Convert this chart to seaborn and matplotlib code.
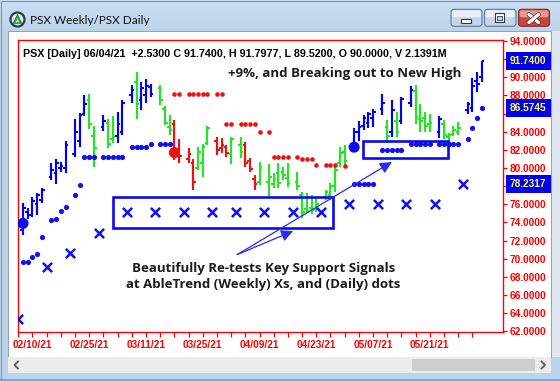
import numpy as np
import pandas as pd
import matplotlib
matplotlib.use("Agg")
import matplotlib.pyplot as plt
import seaborn as sns
from matplotlib.patches import Rectangle, FancyBboxPatch, Circle, Polygon
import matplotlib.patheffects as pe

# ---------------- data ----------------
dates = ["2021-02-08", "2021-02-09", "2021-02-10", "2021-02-11", "2021-02-12",
         "2021-02-16", "2021-02-17", "2021-02-18", "2021-02-19",
         "2021-02-22", "2021-02-23", "2021-02-24", "2021-02-25", "2021-02-26",
         "2021-03-01", "2021-03-02", "2021-03-03", "2021-03-04", "2021-03-05",
         "2021-03-08", "2021-03-09", "2021-03-10", "2021-03-11", "2021-03-12",
         "2021-03-15", "2021-03-16", "2021-03-17", "2021-03-18", "2021-03-19",
         "2021-03-22", "2021-03-23", "2021-03-24", "2021-03-25", "2021-03-26",
         "2021-03-29", "2021-03-30", "2021-03-31", "2021-04-01",
         "2021-04-05", "2021-04-06", "2021-04-07", "2021-04-08", "2021-04-09",
         "2021-04-12", "2021-04-13", "2021-04-14", "2021-04-15", "2021-04-16",
         "2021-04-19", "2021-04-20", "2021-04-21", "2021-04-22", "2021-04-23",
         "2021-04-26", "2021-04-27", "2021-04-28", "2021-04-29", "2021-04-30",
         "2021-05-03", "2021-05-04", "2021-05-05", "2021-05-06", "2021-05-07",
         "2021-05-10", "2021-05-11", "2021-05-12", "2021-05-13", "2021-05-14",
         "2021-05-17", "2021-05-18", "2021-05-19", "2021-05-20", "2021-05-21",
         "2021-05-24", "2021-05-25", "2021-05-26", "2021-05-27", "2021-05-28",
         "2021-06-01", "2021-06-02", "2021-06-03", "2021-06-04"]

opens = [73.2, 75.2, 74.8, 76.0, 76.5,
         79.0, 79.4, 80.0, 80.0,
         81.5, 83.0, 86.0, 87.5, 83.5,
         84.5, 85.0, 83.2, 83.5, 84.0,
         88.0, 89.5, 87.5, 88.0, 88.9,
         88.8, 86.5, 84.5, 84.8, 82.0,
         81.0, 80.5, 80.0, 80.5, 82.8,
         83.0, 82.2, 82.3, 81.5,
         82.5, 82.5, 80.8, 78.8, 78.5,
         78.5, 78.2, 79.5, 79.6, 78.9,
         78.5, 77.0, 75.5, 75.6, 75.5,
         76.8, 77.0, 78.0, 80.5, 81.8,
         82.6, 84.0, 84.6, 85.0, 85.5,
         86.5, 84.5, 84.0, 85.2, 85.2,
         87.2, 88.5, 85.4, 85.5, 84.8,
         84.0, 84.8, 83.4, 83.8, 84.0,
         86.4, 86.6, 89.6, 90.0]
highs = [76.1, 75.6, 76.8, 77.2, 77.8,
         80.6, 81.0, 80.7, 83.0,
         85.4, 86.1, 88.0, 88.2, 84.6,
         85.8, 85.4, 85.7, 86.2, 87.5,
         89.1, 90.6, 89.5, 89.8, 89.3,
         89.1, 86.8, 85.8, 85.3, 83.2,
         82.2, 81.0, 82.3, 82.7, 84.6,
         83.4, 83.3, 82.5, 83.4,
         83.4, 82.9, 81.1, 79.2, 80.7,
         80.4, 79.4, 80.6, 80.1, 80.5,
         79.6, 77.4, 77.2, 77.0, 76.8,
         77.6, 78.4, 80.2, 82.3, 82.5,
         84.4, 85.2, 85.8, 86.2, 86.5,
         88.2, 85.3, 87.5, 86.2, 87.8,
         89.0, 89.1, 87.0, 86.2, 86.0,
         85.7, 85.3, 83.9, 84.6, 85.1,
         87.3, 89.9, 90.6, 91.7977]
lows = [72.6, 74.4, 74.6, 74.8, 76.1,
        78.7, 78.2, 79.6, 79.4,
        81.2, 82.3, 85.7, 84.3, 80.1,
        84.1, 82.2, 82.8, 82.8, 83.6,
        87.2, 85.4, 86.4, 87.2, 87.8,
        86.9, 84.7, 83.6, 80.9, 80.6,
        80.5, 77.6, 79.8, 79.0, 82.5,
        81.4, 81.6, 81.2, 80.4,
        81.1, 80.1, 79.6, 77.6, 78.1,
        76.8, 77.8, 77.8, 78.7, 77.9,
        77.6, 74.5, 75.0, 74.9, 75.2,
        76.5, 76.5, 77.4, 80.1, 80.0,
        82.2, 83.0, 84.2, 84.4, 84.5,
        85.8, 82.8, 83.4, 83.4, 84.8,
        86.7, 84.8, 84.0, 84.0, 84.0,
        83.3, 83.2, 83.0, 83.5, 83.6,
        86.0, 86.2, 88.4, 89.52]
closes = [75.6, 74.8, 76.4, 77.0, 77.6,
          79.8, 80.6, 80.2, 82.5,
          84.0, 85.8, 87.0, 84.8, 82.2,
          85.2, 82.6, 83.4, 84.8, 87.2,
          88.6, 87.0, 88.8, 89.0, 88.2,
          87.5, 85.0, 84.2, 81.6, 81.3,
          81.5, 78.5, 81.8, 82.3, 84.4,
          82.0, 82.5, 81.6, 83.2,
          81.8, 80.6, 79.9, 78.2, 80.0,
          79.0, 78.8, 78.4, 79.2, 78.4,
          78.0, 75.2, 75.3, 75.4, 76.0,
          77.3, 78.0, 79.8, 81.6, 80.8,
          84.0, 84.5, 85.5, 85.9, 86.2,
          87.2, 83.5, 86.4, 84.0, 87.6,
          88.6, 85.6, 85.2, 84.6, 85.0,
          85.4, 83.6, 83.6, 84.2, 84.4,
          87.0, 89.0, 89.21, 91.74]
trend = list("bbbbb" "bbbb" "bbbgg" "bggbb" "bgbbb" "gggrr" "rrggg" "rrrg"
             "grrrg" "ggggg" "ggggg" "ggggg" "bbbbb" "bgbgb" "bgggg" "bgggg" "bbbb")
last_volume = "2.1391M"

support_dates = ["2021-02-08", "2021-02-09", "2021-02-10", "2021-02-11", "2021-02-12",
                 "2021-02-16", "2021-02-17", "2021-02-18", "2021-02-19",
                 "2021-02-22", "2021-02-23", "2021-02-24", "2021-02-25", "2021-02-26",
                 "2021-03-01", "2021-03-02", "2021-03-03", "2021-03-04", "2021-03-05",
                 "2021-03-08", "2021-03-09", "2021-03-10", "2021-03-11", "2021-03-12",
                 "2021-03-15", "2021-03-16", "2021-03-17",
                 "2021-05-03", "2021-05-04", "2021-05-05", "2021-05-06", "2021-05-07",
                 "2021-05-10", "2021-05-11", "2021-05-12", "2021-05-13", "2021-05-14",
                 "2021-05-17", "2021-05-18", "2021-05-19", "2021-05-20", "2021-05-21",
                 "2021-05-24", "2021-05-25", "2021-05-26", "2021-05-27", "2021-05-28",
                 "2021-06-01", "2021-06-02", "2021-06-03", "2021-06-04"]
support_values = [69.6, 69.6, 70.2, 70.5, 72.4,
                  74.3, 74.4, 75.3, 75.7,
                  77.0, 78.1, 81.2, 81.2, 81.2,
                  81.2, 81.2, 81.2, 81.2, 81.2,
                  82.3, 82.3, 82.3, 82.3, 82.6,
                  82.6, 82.6, 82.6,
                  78.2, 78.2, 78.2, 78.2, 78.2,
                  82.0, 82.0, 82.0, 82.0, 82.0,
                  82.6, 82.6, 82.6, 82.6, 82.6,
                  82.6, 82.6, 82.6, 82.6, 82.6,
                  83.2, 84.4, 85.5, 86.5745]

resist_dates = ["2021-03-18", "2021-03-19", "2021-03-22", "2021-03-23", "2021-03-24",
                "2021-03-25", "2021-03-26", "2021-03-29", "2021-03-30",
                "2021-03-31", "2021-04-01", "2021-04-05", "2021-04-06", "2021-04-07",
                "2021-04-08", "2021-04-09", "2021-04-12", "2021-04-13", "2021-04-14",
                "2021-04-15", "2021-04-16", "2021-04-19", "2021-04-20", "2021-04-21",
                "2021-04-22", "2021-04-23", "2021-04-26", "2021-04-27", "2021-04-28",
                "2021-04-30"]
resist_values = [88.2, 88.2, 88.2, 88.2, 88.2,
                 88.2, 88.2, 88.2, 88.2,
                 84.9, 84.9, 84.9, 84.9, 84.9,
                 84.9, 84.0, 84.0, 81.2, 81.2,
                 81.2, 81.2, 81.2, 81.0, 81.0,
                 81.0, 80.3, 80.3, 80.3, 80.3,
                 80.2]

signal_dates = ["2021-02-08", "2021-03-18", "2021-05-03"]
signal_values = [73.9, 81.7, 82.3]
signal_kind = ["up", "down", "up"]

week_starts = ["2021-02-08", "2021-02-15", "2021-02-22", "2021-03-01", "2021-03-08",
               "2021-03-15", "2021-03-22", "2021-03-29", "2021-04-05", "2021-04-12",
               "2021-04-19", "2021-04-26", "2021-05-03", "2021-05-10", "2021-05-17",
               "2021-05-24", "2021-05-31"]
weekly_values = [63.4, 69.1, 70.6, 72.8, 75.1, 75.1, 75.1, 75.1, 75.1, 75.1, 75.1, 75.1,
                 76.0, 76.0, 76.0, 76.0, 78.2317]

date_labels = ["02/10/21", "02/25/21", "03/11/21", "03/25/21",
               "04/09/21", "04/23/21", "05/07/21", "05/21/21"]
yticks = list(range(62, 95, 2))
highlight_values = [91.74, 86.5745, 78.2317]

# ---------------- slot positions (trading days, one blank slot per weekend) -------------
dts = pd.to_datetime(dates)
slots = []
s = -1
prev = None
for d in dts:
    wk = d.isocalendar().week
    s += 1
    if prev is not None and wk != prev:
        s += 1
    prev = wk
    slots.append(s)
slot_of = dict(zip(dates, slots))
week_of = {}
for d, sl in zip(dts, slots):
    week_of.setdefault(d.isocalendar().week, sl)

bars = pd.DataFrame({"slot": slots, "open": opens, "high": highs, "low": lows,
                     "close": closes, "trend": trend})
cmap = {"b": "#0000f5", "g": "#22e622", "r": "#ee1111"}
bars["color"] = bars["trend"].map(cmap)

sup = pd.DataFrame({"slot": [slot_of[d] for d in support_dates], "value": support_values})
res = pd.DataFrame({"slot": [slot_of[d] for d in resist_dates], "value": resist_values})
sig = pd.DataFrame({"slot": [slot_of[d] for d in signal_dates], "value": signal_values,
                    "kind": signal_kind})
wkly = pd.DataFrame({"slot": [week_of[pd.Timestamp(w).isocalendar().week] - 1 for w in week_starts],
                     "value": weekly_values})

# ---------------- figure ----------------
W, H = 560, 381
fig = plt.figure(figsize=(5.6, 3.81), dpi=100)
fig.patch.set_facecolor("#bcd3ea")

bg = fig.add_axes([0, 0, 1, 1])
bg.axis("off")
grad = np.linspace(0, 1, 32)[:, None, None]
c_top = np.array([0.80, 0.87, 0.95])[None, None, :]
c_bot = np.array([0.74, 0.83, 0.92])[None, None, :]
img = np.repeat(c_top * (1 - grad) + c_bot * grad, 2, axis=1)
bg.imshow(img, extent=(0, W, 31, 0), aspect="auto", zorder=0)
bg.set_xlim(0, W)
bg.set_ylim(H, 0)

bg.add_patch(Rectangle((8, 31), 543, 326, fc="white", ec="#8ea3bb", lw=0.7, zorder=1))
bg.add_patch(Rectangle((551.5, 31), 8.5, 326, fc="#dfe6ef", ec="none", zorder=1))
bg.add_patch(Rectangle((8, 357), 543, 16, fc="#ececec", ec="none", zorder=1))
bg.add_patch(Rectangle((412, 359), 123, 12, fc="#cdcdcd", ec="none", zorder=2))
bg.plot([18, 14.5, 18], [361.5, 365, 368.5], color="#5a5a5a", lw=1.3, zorder=2)
bg.plot([541.5, 545, 541.5], [361.5, 365, 368.5], color="#5a5a5a", lw=1.3, zorder=2)
bg.add_patch(Rectangle((0, 379), W, 2, fc="#3cc6e6", ec="none", zorder=2))
bg.plot([0.5, 0.5], [381, 0.5], color="#7f95ad", lw=0.8, zorder=2)
bg.plot([0.5, W], [0.5, 0.5], color="#7f95ad", lw=0.8, zorder=2)

# icon
bg.add_patch(Circle((17.5, 19.5), 7.0, fc="#e2eff9", ec="#2d3a48", lw=1.6, zorder=3))
bg.add_patch(Polygon([(13.2, 23.3), (17.5, 14.4), (21.8, 23.3)], closed=True,
                     fc="#38a848", ec="#1f6b2b", lw=0.5, zorder=4))
bg.add_patch(Polygon([(15.8, 22.3), (17.5, 18.6), (19.2, 22.3)], closed=True,
                     fc="#c9efcf", ec="none", zorder=5))
bg.text(30, 20, "PSX Weekly/PSX Daily", family="Lato", fontsize=8.5, color="#111111",
        va="center", ha="left", zorder=3)

# window buttons
def button(x, w, top, bot, edge):
    bg.add_patch(FancyBboxPatch((x, 9.3), w, 17, boxstyle="round,pad=0,rounding_size=3",
                                fc=bot, ec=edge, lw=0.8, zorder=3))
    bg.add_patch(FancyBboxPatch((x + 1, 10.3), w - 2, 7, boxstyle="round,pad=0,rounding_size=2",
                                fc=top, ec="none", zorder=4))

button(451, 31, "#e6eef7", "#c6d5e8", "#5f7893")
button(484.5, 31.5, "#e6eef7", "#c6d5e8", "#5f7893")
button(518.5, 31, "#e49a90", "#c5463b", "#7a2c27")
bg.add_patch(Rectangle((460.5, 19), 10, 3.5, fc="white", ec="#2b3b4f", lw=0.8, zorder=5))
bg.add_patch(Rectangle((494.5, 13.3), 9.5, 8.3, fc="white", ec="#2b3b4f", lw=0.8, zorder=5))
bg.add_patch(Rectangle((496.5, 16.3), 5.5, 3.4, fc="#c6d5e8", ec="#2b3b4f", lw=0.6, zorder=6))
for xs, ys in [([529, 538.5], [14.5, 22.5]), ([538.5, 529], [14.5, 22.5])]:
    bg.plot(xs, ys, color="white", lw=2.4, solid_capstyle="round", zorder=6,
            path_effects=[pe.Stroke(linewidth=3.4, foreground="#6a2a25"), pe.Normal()])

# header text built from the last bar
chg = closes[-1] - closes[-2]
header = (f"PSX [Daily] {dts[-1].strftime('%m/%d/%y')}  {chg:+.4f} C {closes[-1]:.4f}, "
          f"H {highs[-1]:.4f}, L {lows[-1]:.4f}, O {opens[-1]:.4f}, V {last_volume}")
bg.text(22.7, 53.6, header, family="Liberation Sans", weight="bold", fontsize=7.75,
        color="black", va="center", ha="left", zorder=3)

note_kw = dict(family="Open Sans", weight="bold", fontsize=9.55, color="#1c1c1c", zorder=3)
bg.text(227.7, 73.3, "+9%, and Breaking out to New High", va="center", ha="left", **note_kw)
bg.text(263.5, 268.3, "Beautifully Re-tests Key Support Signals", va="center", ha="center", **note_kw)
bg.text(263.5, 284.3, "at AbleTrend (Weekly) Xs, and (Daily) dots", va="center", ha="center", **note_kw)

# ---------------- main chart ----------------
ax = fig.add_axes([17.5 / W, 1 - 332 / H, (503 - 17.5) / W, 292 / H])
ax.set_facecolor("none")

tick = 0.55
ax.vlines(bars["slot"], bars["low"], bars["high"], colors=bars["color"], lw=1.55, zorder=3)
ax.hlines(bars["open"], bars["slot"] - tick, bars["slot"], colors=bars["color"], lw=1.5, zorder=3)
ax.hlines(bars["close"], bars["slot"], bars["slot"] + tick, colors=bars["color"], lw=1.5, zorder=3)

sns.scatterplot(data=sup, x="slot", y="value", color="#1010f0", s=14, linewidth=0,
                ax=ax, zorder=4)
sns.scatterplot(data=res, x="slot", y="value", color="#ee1111", s=11, linewidth=0,
                ax=ax, zorder=4)
sns.scatterplot(data=sig, x="slot", y="value", hue="kind",
                palette={"up": "#0a0af5", "down": "#ee1111"}, s=64, linewidth=0,
                legend=False, ax=ax, zorder=5)
sns.scatterplot(data=wkly, x="slot", y="value", color="#1010f0", marker="x", s=44,
                linewidth=1.8, ax=ax, zorder=4)

ax.add_patch(Rectangle((18.96, 73.35), 65.6 - 18.96, 76.75 - 73.35, fill=False,
                       ec="#0a0af0", lw=1.9, zorder=6))
ax.add_patch(Rectangle((71.9, 81.07), 89.9 - 71.9, 82.97 - 81.07, fill=False,
                       ec="#0a0af0", lw=1.9, zorder=6))

arrow_kw = dict(arrowstyle="-|>,head_length=0.65,head_width=0.32", color="#2a2af0", lw=0.9,
                mutation_scale=11, shrinkA=0, shrinkB=0)
ax.annotate("", xy=(57.1, 73.05), xytext=(45.3, 70.46), arrowprops=arrow_kw, zorder=6)
ax.annotate("", xy=(78.0, 80.66), xytext=(45.3, 70.46), arrowprops=arrow_kw, zorder=6)

ax.set_xlim(-1.163, 101.48)
ax.set_ylim(61.92, 94.11)
ax.set_xlabel("")
ax.set_ylabel("")

for sp in ax.spines.values():
    sp.set_color("#ff0000")
    sp.set_linewidth(1.0)

label_slots = {slot_of[pd.Timestamp("20" + l[6:8] + "-" + l[0:2] + "-" + l[3:5]).strftime("%Y-%m-%d")]: l
               for l in date_labels}
xt = list(range(-1, 96, 3))
ax.set_xticks(xt)
ax.set_xticklabels([label_slots.get(t, "") for t in xt])
ax.tick_params(axis="x", direction="out", length=3.6, width=0.9, color="#ff0000",
               labelcolor="#ff0000", pad=2.0)
for lab in ax.get_xticklabels():
    lab.set_family("Liberation Sans")
    lab.set_weight("bold")
    lab.set_fontsize(7.3)

# tick labels that sit under a highlight box are hidden, as in the reference
hidden = {round(v / 2) * 2 for v in highlight_values if abs(v - round(v / 2) * 2) < 0.6}
ax.yaxis.tick_right()
ax.set_yticks(yticks)
ax.set_yticklabels(["" if v in hidden else f"{v:.4f}" for v in yticks])
ax.tick_params(axis="y", direction="out", length=2.6, width=0.9, color="#ff0000",
               labelcolor="#ff0000", pad=2.2)
for lab in ax.get_yticklabels():
    lab.set_family("Liberation Sans")
    lab.set_weight("bold")
    lab.set_fontsize(7.3)

ytr = ax.get_yaxis_transform()
x0 = (506 - 17.5) / (503 - 17.5)
x1 = (550.5 - 17.5) / (503 - 17.5)
hbox = 18 / 9.07
for v in highlight_values:
    ax.add_patch(Rectangle((x0, v - hbox / 2), x1 - x0, hbox, transform=ytr, clip_on=False,
                           fc="#0000ee", ec="none", zorder=7))
    ax.text((x0 + x1) / 2, v, f"{v:.4f}", transform=ytr, clip_on=False, ha="center",
            va="center", family="Liberation Sans", weight="bold", fontsize=7.3,
            color="#ffff55", zorder=8)

fig.savefig("out.png", dpi=100, facecolor=fig.get_facecolor())
